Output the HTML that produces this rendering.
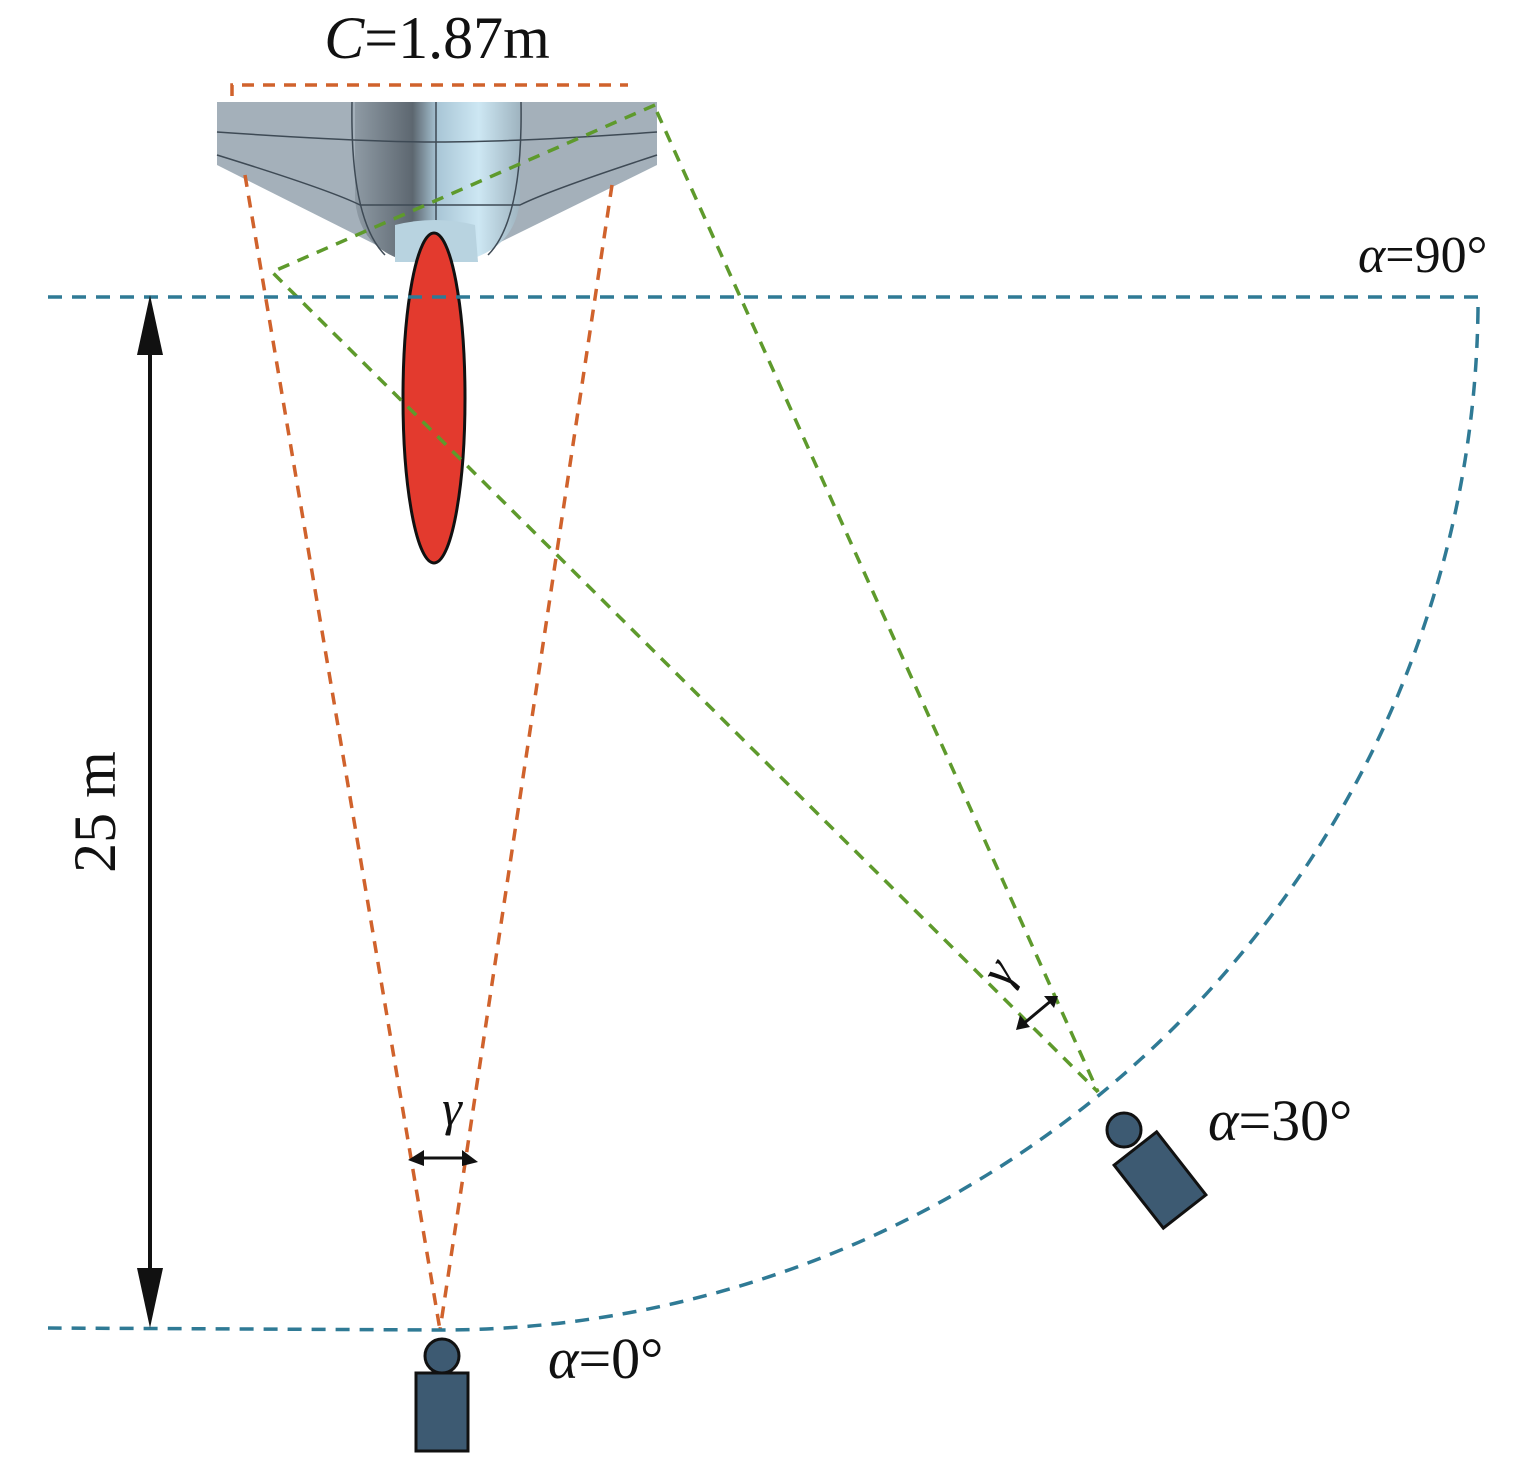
<!DOCTYPE html>
<html><head><style>body{margin:0;background:#fff}svg{display:block}</style></head><body>
<svg width="1535" height="1460" viewBox="0 0 1535 1460" xmlns="http://www.w3.org/2000/svg">
<defs>
<linearGradient id="fus" x1="0" x2="1">
<stop offset="0" stop-color="#8e9aa4"/><stop offset="0.35" stop-color="#5d6770"/><stop offset="0.5" stop-color="#a9c6d6"/><stop offset="0.75" stop-color="#cde7f3"/><stop offset="1" stop-color="#9fb4c0"/>
</linearGradient>
</defs>
<polygon points="217,102 657,102 657,165 460,262 410,262 217,165" fill="#a4b0ba"/>
<path d="M355,102 L520,102 L520,200 Q515,250 460,262 L410,262 Q360,250 355,200 Z" fill="url(#fus)"/>
<g stroke="#3e4a55" stroke-width="1.5" fill="none">
<path d="M217,132 Q360,142 437,142 Q520,142 657,132"/>
<path d="M217,155 Q330,190 360,205 L520,205 Q550,190 657,155"/>
<line x1="436" y1="102" x2="436" y2="262"/>
<path d="M352,102 Q350,220 385,255"/><path d="M521,102 Q523,220 488,255"/>
</g>
<path d="M395,225 Q435,215 475,225 L478,262 L395,262 Z" fill="#b8d3e0"/>
<ellipse cx="434" cy="398" rx="31" ry="165" fill="#e33a2e" stroke="#111" stroke-width="3"/>
<g stroke="#d0622c" stroke-width="3.5" stroke-dasharray="12,9" fill="none">
<path d="M232,96 L232,85 L628,85"/>
<line x1="245" y1="175" x2="440" y2="1330"/>
<line x1="612" y1="185" x2="440" y2="1330"/>
</g>
<g stroke="#5e9a2c" stroke-width="3.5" stroke-dasharray="12,9" fill="none">
<path d="M655,105 L272,272 L1098,1092"/>
<line x1="657" y1="112" x2="1098" y2="1092"/>
</g>
<g stroke="#2f7a95" stroke-width="3.5" stroke-dasharray="14,10" fill="none">
<path d="M48,297 L1478,297 L1478,310"/>
<path d="M1478,310 A1038,1033 0 0 1 440,1330 L48,1328"/>
</g>
<line x1="150" y1="330" x2="150" y2="1295" stroke="#111" stroke-width="4"/>
<polygon points="150,295 137,355 163,355" fill="#111"/>
<polygon points="150,1328 137,1268 163,1268" fill="#111"/>
<g stroke="#111" stroke-width="3"><line x1="418" y1="1158" x2="468" y2="1158"/><line x1="1022" y1="1025" x2="1052" y2="1000"/></g>
<polygon points="408,1160 424,1150 424,1166" fill="#111"/><polygon points="478,1162 462,1150 462,1166" fill="#111"/>
<polygon points="1016,1030 1020,1015 1030,1027" fill="#111"/><polygon points="1058,996 1044,996 1054,1008" fill="#111"/>
<g fill="#3d5a72" stroke="#111" stroke-width="3">
<circle cx="442" cy="1356" r="17"/><rect x="416" y="1373" width="52" height="78"/>
<circle cx="1124" cy="1130" r="17"/>
<rect x="-27" y="-40" width="54" height="80" transform="translate(1160,1180) rotate(-38)"/>
</g>
<g font-family="Liberation Serif, serif" fill="#111">
<text x="437" y="58" font-size="60" text-anchor="middle"><tspan font-style="italic">C</tspan>=1.87m</text>
<text x="1358" y="272" font-size="52"><tspan font-style="italic">α</tspan>=90°</text>
<text x="1208" y="1140" font-size="58"><tspan font-style="italic">α</tspan>=30°</text>
<text x="548" y="1378" font-size="58"><tspan font-style="italic">α</tspan>=0°</text>
<text transform="translate(115,812) rotate(-90)" font-size="60" text-anchor="middle">25 m</text>
<text x="452" y="1125" font-size="50" font-style="italic" text-anchor="middle">γ</text>
<text transform="translate(1012,980) rotate(-60)" font-size="50" font-style="italic" text-anchor="middle">γ</text>
</g>
</svg>
</body></html>
